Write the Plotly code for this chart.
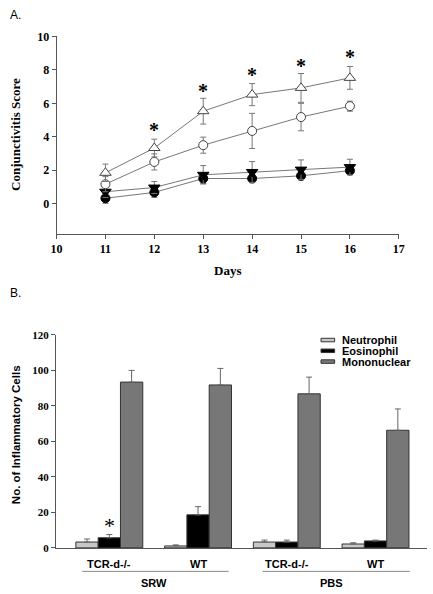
import plotly.graph_objects as go

# ---------- Panel A data ----------
days = [11, 12, 13, 14, 15, 16]
open_tri = [1.85, 3.33, 5.53, 6.52, 6.92, 7.52]
open_tri_err = [0.52, 0.53, 0.77, 0.66, 0.86, 0.68]
open_circ = [1.17, 2.5, 3.5, 4.35, 5.18, 5.83]
open_circ_err = [0.45, 0.48, 0.48, 1.05, 0.82, 0.3]
fill_tri = [0.72, 0.97, 1.73, 1.9, 2.04, 2.19]
fill_tri_err = [0.35, 0.36, 0.55, 0.62, 0.58, 0.47]
fill_circ = [0.33, 0.68, 1.51, 1.51, 1.67, 1.98]
fill_circ_err = [0.3, 0.3, 0.3, 0.25, 0.25, 0.2]
star_days = [12, 13, 14, 15, 16]
star_y = [4.62, 6.97, 7.94, 8.45, 9.0]
x_ticks_a = [10, 11, 12, 13, 14, 15, 16, 17]
y_ticks_a = [0, 2, 4, 6, 8, 10]

# ---------- Panel B data ----------
groups = ["TCR-d-/-", "WT", "TCR-d-/-", "WT"]
treatments = ["SRW", "PBS"]
neutrophil = [3.3, 1.1, 3.3, 2.2]
neutrophil_top = [5.0, 1.7, 4.4, 2.9]
eosinophil = [5.7, 18.6, 3.3, 3.9]
eosinophil_top = [7.5, 23.2, 4.4, 4.4]
mononuclear = [93.3, 91.7, 86.7, 66.2]
mononuclear_top = [99.9, 101.0, 96.1, 78.2]
series_names = ["Neutrophil", "Eosinophil", "Mononuclear"]
y_ticks_b = [0, 20, 40, 60, 80, 100, 120]

W, H = 433, 594
def px(x):
    return x / W
def py(y):
    return 1 - y / H

fig = go.Figure()

serif = "Liberation Serif"
sans = "Liberation Sans"

def add_line(y, err, symbol, fill, line_col):
    fig.add_trace(go.Scatter(
        x=days, y=y, mode="lines+markers",
        line=dict(color="#777777", width=1),
        marker=dict(symbol=symbol, size=9 if "circle" in symbol else 10,
                    color=fill, line=dict(color=line_col, width=1)),
        error_y=dict(type="data", array=err, color="#777777", thickness=1, width=3),
        xaxis="x", yaxis="y", showlegend=False))

add_line(fill_circ, fill_circ_err, "circle", "black", "black")
add_line(fill_tri, fill_tri_err, "triangle-down", "black", "black")
add_line(open_circ, open_circ_err, "circle", "white", "#444444")
add_line(open_tri, open_tri_err, "triangle-up", "white", "#444444")

annotations = []
for d, s in zip(star_days, star_y):
    annotations.append(dict(x=d, y=s, xref="x", yref="y", text="<b>*</b>", showarrow=False,
                            xanchor="center", yanchor="middle", yshift=-4,
                            font=dict(family=serif, size=20, color="black")))

# ---------- Panel B bars ----------
xpos = list(range(len(groups)))
bar_colors = ["#c8c8c8", "#000000", "#777777"]
vals = [neutrophil, eosinophil, mononuclear]
tops = [neutrophil_top, eosinophil_top, mononuclear_top]
for name, v, t, c in zip(series_names, vals, tops, bar_colors):
    fig.add_trace(go.Bar(
        x=xpos, y=v, name=name, marker=dict(color=c, line=dict(color="#333333", width=1)),
        error_y=dict(type="data", symmetric=False, array=[a - b for a, b in zip(t, v)],
                     arrayminus=[0] * len(v), color="#666666", thickness=1, width=3),
        xaxis="x2", yaxis="y2", showlegend=False))

# star on eosinophil bar
annotations.append(dict(x=0, y=eosinophil[0], xref="x2", yref="y2", text="*",
                        showarrow=False, xanchor="center", yanchor="middle", yshift=12,
                        font=dict(family=serif, size=22, color="black")))

# group labels
for i, g in enumerate(groups):
    annotations.append(dict(x=i, y=py(569), xref="x2", yref="paper", text="<b>%s</b>" % g,
                            showarrow=False, font=dict(family=sans, size=11, color="black"),
                            xanchor="center", yanchor="middle"))
for j, tname in enumerate(treatments):
    annotations.append(dict(x=2 * j + 0.5, y=py(589), xref="x2", yref="paper", text="<b>%s</b>" % tname,
                            showarrow=False, font=dict(family=sans, size=11, color="black"),
                            xanchor="center", yanchor="middle"))

# legend
leg_y = [340.5, 351.5, 362.5]
shapes = []
for name, c, yy in zip(series_names, bar_colors, leg_y):
    shapes.append(dict(type="rect", xref="paper", yref="paper",
                       x0=px(324), x1=px(338), y0=py(yy + 1.8), y1=py(yy - 1.8),
                       fillcolor=c, line=dict(color="#333333", width=1)))
    annotations.append(dict(x=px(344), y=py(yy), xref="paper", yref="paper", text="<b>%s</b>" % name,
                            showarrow=False, xanchor="left", yanchor="middle",
                            font=dict(family=sans, size=11, color="black")))

# treatment bracket lines
shapes.append(dict(type="line", xref="x2", yref="paper", x0=-0.306, x1=1.344, y0=py(577), y1=py(577),
                   line=dict(color="#888888", width=1)))
shapes.append(dict(type="line", xref="x2", yref="paper", x0=1.727, x1=3.388, y0=py(577), y1=py(577),
                   line=dict(color="#888888", width=1)))

# panel letters
annotations.append(dict(x=px(2), y=py(8), xref="paper", yref="paper", text="A.", showarrow=False,
                        xanchor="left", yanchor="middle", font=dict(family=sans, size=12, color="black")))
annotations.append(dict(x=px(2), y=py(292), xref="paper", yref="paper", text="B.", showarrow=False,
                        xanchor="left", yanchor="middle", font=dict(family=sans, size=12, color="black")))

# axis titles
annotations.append(dict(x=px(9), y=py(130), xref="paper", yref="paper", text="<b>Conjunctivitis Score</b>",
                        showarrow=False, textangle=-90, xanchor="center", yanchor="middle",
                        font=dict(family=serif, size=13, color="black")))
annotations.append(dict(x=px(228), y=py(269), xref="paper", yref="paper", text="<b>Days</b>",
                        showarrow=False, xanchor="center", yanchor="middle",
                        font=dict(family=serif, size=13, color="black")))
annotations.append(dict(x=px(11), y=py(437), xref="paper", yref="paper", text="<b>No. of Inflammatory Cells</b>",
                        showarrow=False, textangle=-90, xanchor="center", yanchor="middle",
                        font=dict(family=sans, size=11.5, color="black")))

tickfont_a = dict(family=serif, size=12, color="black")
tickfont_b = dict(family=serif, size=11, color="black")

fig.update_layout(
    width=W, height=H, margin=dict(l=0, r=0, t=0, b=0),
    paper_bgcolor="white", plot_bgcolor="white",
    barmode="group", bargap=0.246, bargroupgap=0,
    xaxis=dict(domain=[px(52), px(404)], range=[10, 17], tickvals=x_ticks_a,
               ticktext=["<b>%d</b>" % v for v in x_ticks_a], tickfont=tickfont_a,
               showgrid=False, zeroline=False, showline=True, linecolor="#555555", linewidth=1,
               ticks="outside", ticklen=4, tickcolor="#555555", anchor="y"),
    yaxis=dict(domain=[py(232), py(30)], range=[-1.8, 10], tickvals=y_ticks_a,
               ticktext=["<b>%d</b>" % v for v in y_ticks_a], tickfont=tickfont_a,
               showgrid=False, zeroline=False, showline=True, linecolor="#555555", linewidth=1,
               ticks="outside", ticklen=4, tickcolor="#555555", anchor="x"),
    xaxis2=dict(domain=[px(51.5), 1.0], range=[-0.6, 3.58], showticklabels=False,
                showgrid=False, zeroline=False, showline=True, linecolor="#555555", linewidth=1,
                ticks="", anchor="y2"),
    yaxis2=dict(domain=[py(553), py(335)], range=[0, 120], tickvals=y_ticks_b,
                ticktext=["<b>%d</b>" % v for v in y_ticks_b], tickfont=tickfont_b,
                showgrid=False, zeroline=False, showline=True, linecolor="#555555", linewidth=1,
                ticks="outside", ticklen=4, tickcolor="#555555", anchor="x2"),
    annotations=annotations, shapes=shapes,
)

fig.write_html("out.html", config={"displayModeBar": False},
               post_script="document.body.style.margin='0';document.body.style.overflow='hidden';")
